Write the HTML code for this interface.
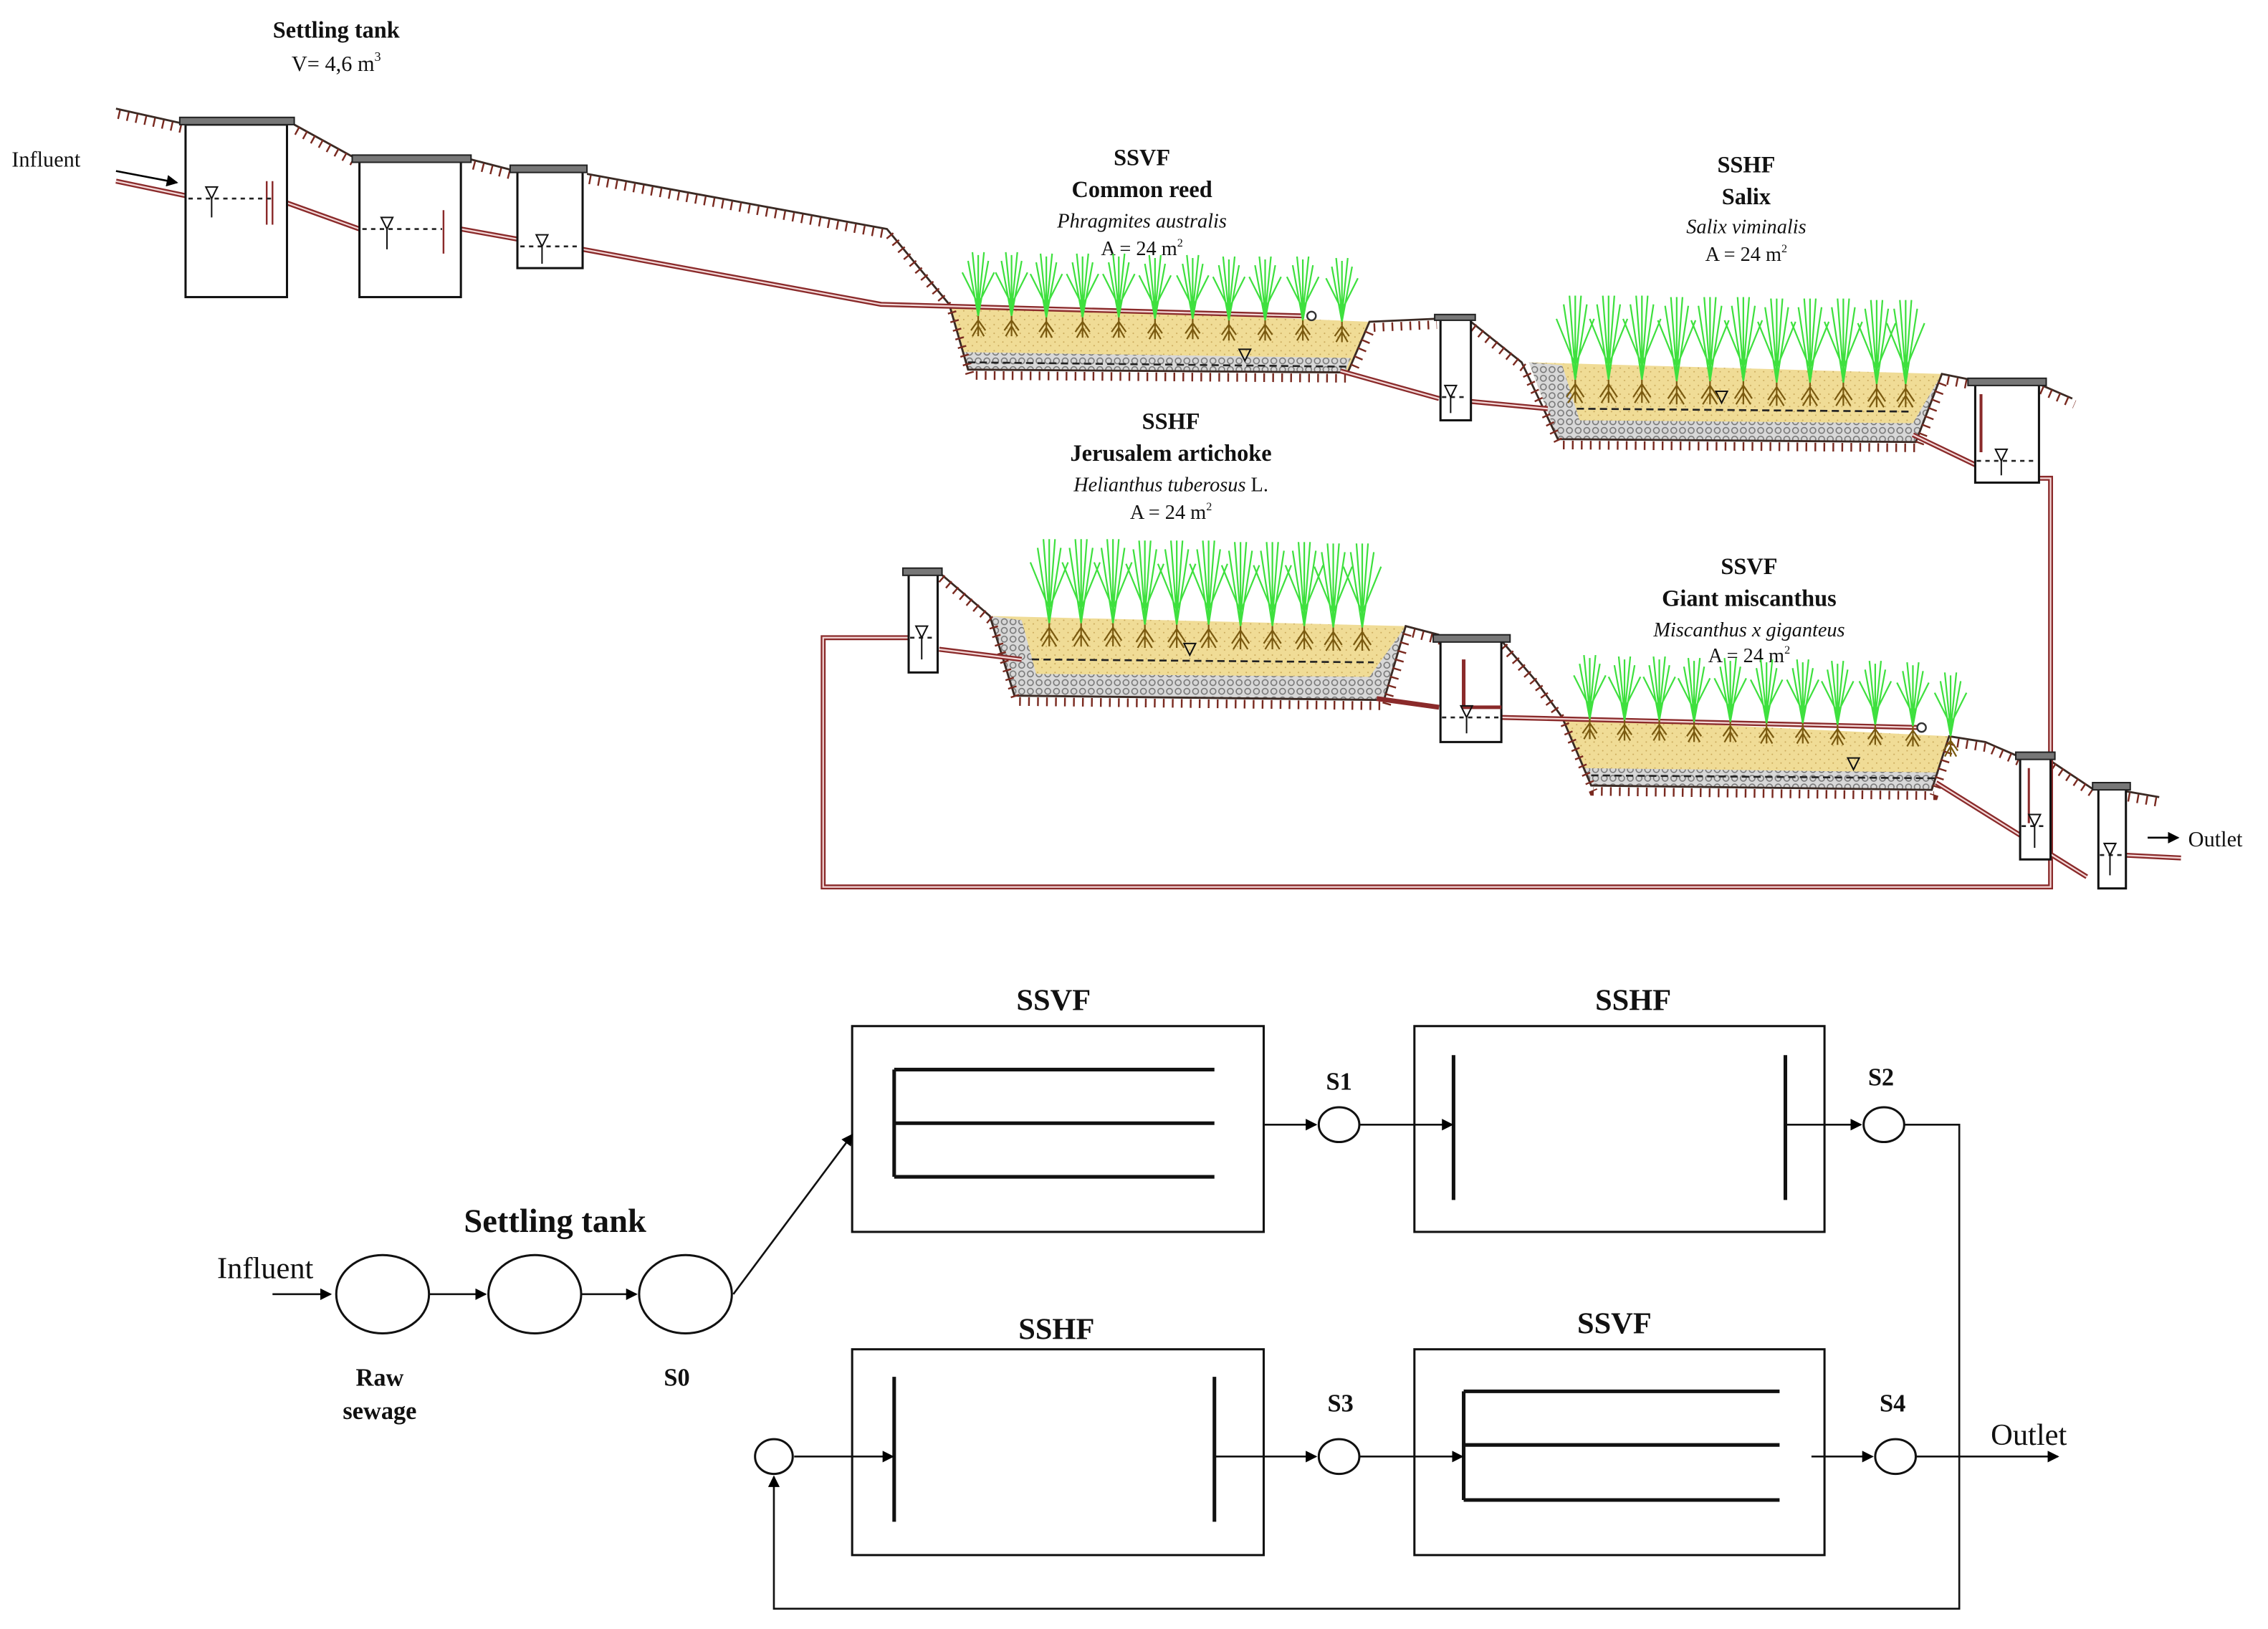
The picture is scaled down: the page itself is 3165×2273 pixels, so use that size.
<!DOCTYPE html>
<html><head><meta charset="utf-8"><style>
html,body{margin:0;padding:0;background:#fff}
svg{display:block}
text{font-family:"Liberation Serif",serif;fill:#111}
.b{font-weight:bold}
.i{font-style:italic}
</style></head><body>
<svg width="3165" height="2273" viewBox="0 0 1565 1124" xmlns="http://www.w3.org/2000/svg">
<defs>
<g id="reed">
 <g stroke="#3ee03e" stroke-width="1.1" fill="none">
  <path d="M0 0 L0 -42 M0 0 L-7 -38 M0 0 L7 -38 M0 -8 L-11 -30 M0 -8 L11 -30 M0 -4 L-4 -44 M0 -4 L4 -44"/>
 </g>
 <g stroke="#7a5a10" stroke-width="1.1" fill="none">
  <path d="M0 0 L0 14 M0 3 L-5 10 M0 3 L5 10 M0 7 L-4 14 M0 7 L4 14"/>
 </g>
</g>
<g id="tall">
 <g stroke="#3ee03e" stroke-width="1.1" fill="none">
  <path d="M0 0 L0 -58 M0 0 L-8 -52 M0 0 L8 -52 M0 -10 L-13 -42 M0 -10 L13 -42 M0 -5 L-4 -58 M0 -5 L4 -58"/>
 </g>
 <g stroke="#7a5a10" stroke-width="1.1" fill="none">
  <path d="M0 0 L0 16 M0 3 L-6 12 M0 3 L6 12 M0 8 L-5 16 M0 8 L5 16"/>
 </g>
</g>
<pattern id="sand" width="6" height="6" patternUnits="userSpaceOnUse">
 <rect width="6" height="6" fill="#f0dc96"/><circle cx="2" cy="2" r=".5" fill="#c9a85a"/><circle cx="5" cy="4.5" r=".5" fill="#c9a85a"/>
</pattern>
<pattern id="grav" width="6" height="6" patternUnits="userSpaceOnUse">
 <rect width="6" height="6" fill="#d8d8d8"/><circle cx="3" cy="3" r="2" fill="none" stroke="#777" stroke-width=".8"/>
</pattern>
<marker id="ar" markerWidth="8" markerHeight="8" refX="7" refY="4" orient="auto" markerUnits="userSpaceOnUse"><path d="M0 0 L8 4 L0 8z" fill="#000"/></marker>
</defs>

<text x="232" y="26" text-anchor="middle" class="b" font-size="16">Settling tank</text>
<text x="232" y="49" text-anchor="middle" font-size="15">V= 4,6 m<tspan font-size="9" dy="-7">3</tspan></text>
<text x="8" y="115" font-size="15">Influent</text>
<path d="M80 118 L122 126" stroke="#000" stroke-width="1.3" marker-end="url(#ar)"/>

<text x="788" y="114" text-anchor="middle" class="b" font-size="16">SSVF</text>
<text x="788" y="136" text-anchor="middle" class="b" font-size="16">Common reed</text>
<text x="788" y="157" text-anchor="middle" class="i" font-size="14">Phragmites australis</text>
<text x="788" y="176" text-anchor="middle" font-size="14">A = 24 m<tspan font-size="8" dy="-6">2</tspan></text>

<text x="1205" y="119" text-anchor="middle" class="b" font-size="16">SSHF</text>
<text x="1205" y="141" text-anchor="middle" class="b" font-size="16">Salix</text>
<text x="1205" y="161" text-anchor="middle" class="i" font-size="14">Salix viminalis</text>
<text x="1205" y="180" text-anchor="middle" font-size="14">A = 24 m<tspan font-size="8" dy="-6">2</tspan></text>

<text x="808" y="296" text-anchor="middle" class="b" font-size="16">SSHF</text>
<text x="808" y="318" text-anchor="middle" class="b" font-size="16">Jerusalem artichoke</text>
<text x="808" y="339" text-anchor="middle" class="i" font-size="14">Helianthus tuberosus <tspan font-style="normal">L.</tspan></text>
<text x="808" y="358" text-anchor="middle" font-size="14">A = 24 m<tspan font-size="8" dy="-6">2</tspan></text>

<text x="1207" y="396" text-anchor="middle" class="b" font-size="16">SSVF</text>
<text x="1207" y="418" text-anchor="middle" class="b" font-size="16">Giant miscanthus</text>
<text x="1207" y="439" text-anchor="middle" class="i" font-size="14">Miscanthus x giganteus</text>
<text x="1207" y="457" text-anchor="middle" font-size="14">A = 24 m<tspan font-size="8" dy="-6">2</tspan></text>

<text x="1510" y="584" font-size="15">Outlet</text>
<path d="M1482 578 L1503 578" stroke="#000" stroke-width="1.3" marker-end="url(#ar)"/>

<path d="M655 210 L945 222 L930 257 L668 255 Z" fill="url(#sand)"/>
<path d="M665 243 L932 247 L928 257 L668 255 Z" fill="url(#grav)"/>
<path d="M1055 250 L1340 258 L1322 305 L1075 303 Z" fill="url(#sand)"/>
<path d="M1055 250 L1078 252 L1090 290 L1320 292 L1340 258 L1322 305 L1075 303 Z" fill="url(#grav)"/>
<path d="M683 425 L970 432 L955 483 L700 480 Z" fill="url(#sand)"/>
<path d="M683 425 L705 428 L715 465 L945 467 L970 432 L955 483 L700 480 Z" fill="url(#grav)"/>
<path d="M1078 495 L1345 508 L1333 545 L1098 542 Z" fill="url(#sand)"/>
<path d="M1092 530 L1338 533 L1333 545 L1098 542 Z" fill="url(#grav)"/>

<g fill="none">
<g stroke="#3a2a24" stroke-width="1.4">
<path d="M80 75 L125 85 M203 86 L243 108 M325 110 L352 117 M405 120 L612 158 L655 210 L668 255 L930 257 L945 222 L990 220 M1015 222 L1050 250 L1075 303 L1322 305 L1340 258 L1360 262 M1407 265 L1430 275"/>
<path d="M648 395 L683 425 L700 480 L955 483 L970 432 L993 438 M1036 442 L1060 470 L1078 495 L1098 542 L1333 545 L1345 508 L1370 512 L1393 522 M1415 525 L1445 545 M1467 546 L1490 550"/>
</g>
<g stroke="#7a2a20" stroke-width="6" stroke-dasharray="1.2 5" transform="translate(1.5 4)">
<path d="M80 75 L125 85 M203 86 L243 108 M325 110 L352 117 M405 120 L612 158 L655 210 L668 255 L930 257 L945 222 L990 220 M1015 222 L1050 250 L1075 303 L1322 305 L1340 258 L1360 262 M1407 265 L1430 275"/>
<path d="M648 395 L683 425 L700 480 L955 483 L970 432 L993 438 M1036 442 L1060 470 L1078 495 L1098 542 L1333 545 L1345 508 L1370 512 L1393 522 M1415 525 L1445 545 M1467 546 L1490 550"/>
</g>
</g>

<g fill="none">
<g stroke="#8a2a2a" stroke-width="3.4">
<path d="M80 125 L128 135 M198 140 L248 158 M318 158 L357 165 M402 172 L608 210 L900 218"/>
<path d="M925 256 L993 275 M1015 277 L1068 282"/>
<path d="M1320 300 L1372 325"/>
<path d="M1407 330 L1415 330 L1415 612 L568 612 L568 440 L628 440"/>
<path d="M648 448 L705 455"/>
<path d="M950 482 L993 488"/>
<path d="M1036 495 L1325 502"/>
<path d="M1336 540 L1440 605"/>
<path d="M1465 590 L1505 592"/>
</g>
<g stroke="#f3d8d8" stroke-width="1.1">
<path d="M80 125 L128 135 M198 140 L248 158 M318 158 L357 165 M402 172 L608 210 L900 218"/>
<path d="M925 256 L993 275 M1015 277 L1068 282"/>
<path d="M1320 300 L1372 325"/>
<path d="M1407 330 L1415 330 L1415 612 L568 612 L568 440 L628 440"/>
<path d="M648 448 L705 455"/>
<path d="M1036 495 L1325 502"/>
<path d="M1336 540 L1440 605"/>
<path d="M1465 590 L1505 592"/>
</g>
<circle cx="905" cy="218" r="3" stroke="#333" stroke-width="1.2" fill="#fff"/>
<circle cx="1326" cy="502" r="3" stroke="#333" stroke-width="1.2" fill="#fff"/>
</g>

<g fill="#fff" stroke="#111" stroke-width="1.5">
<rect x="128" y="86" width="70" height="119"/>
<rect x="248" y="111" width="70" height="94"/>
<rect x="357" y="118" width="45" height="67"/>
<rect x="994" y="220" width="21" height="70"/>
<rect x="1363" y="265" width="44" height="68"/>
<rect x="627" y="396" width="20" height="68"/>
<rect x="994" y="442" width="42" height="70"/>
<rect x="1394" y="523" width="21" height="70"/>
<rect x="1448" y="543" width="19" height="70"/>
</g>
<g fill="#777" stroke="#222" stroke-width="1">
<rect x="124" y="81" width="79" height="5"/>
<rect x="243" y="107" width="82" height="5"/>
<rect x="352" y="114" width="53" height="5"/>
<rect x="990" y="217" width="28" height="4"/>
<rect x="1358" y="261" width="54" height="5"/>
<rect x="623" y="392" width="27" height="5"/>
<rect x="989" y="438" width="53" height="5"/>
<rect x="1391" y="519" width="27" height="5"/>
<rect x="1444" y="540" width="26" height="5"/>
</g>
<g stroke="#8a2a2a" stroke-width="1.2" fill="none"><path d="M184 125 L184 155 M188 125 L188 155 M306 145 L306 175"/>
<path d="M1010 455 L1010 488 L1036 488" stroke-width="2.5"/><path d="M1367 272 L1367 312" stroke-width="2"/><path d="M1400 530 L1400 568" stroke-width="1.5"/></g>

<g stroke="#222" stroke-width="1.3" stroke-dasharray="5 3" fill="none">
<path d="M668 250 L930 253"/><path d="M1088 282 L1320 284"/><path d="M712 455 L948 457"/><path d="M1098 535 L1335 537"/>
<path d="M130 137 L190 137" stroke-dasharray="3 3"/><path d="M250 158 L305 158" stroke-dasharray="3 3"/><path d="M359 170 L400 170" stroke-dasharray="3 3"/>
<path d="M995 274 L1013 274" stroke-dasharray="3 3"/><path d="M1364 318 L1405 318" stroke-dasharray="3 3"/><path d="M628 440 L646 440" stroke-dasharray="3 3"/><path d="M995 495 L1034 495" stroke-dasharray="3 3"/><path d="M1395 570 L1413 570" stroke-dasharray="3 3"/><path d="M1449 590 L1465 590" stroke-dasharray="3 3"/>
</g>
<g fill="none" stroke="#111" stroke-width="1">
<path d="M142 129 L150 129 L146 137 Z M146 137 L146 150"/>
<path d="M263 150 L271 150 L267 158 Z M267 158 L267 172"/>
<path d="M370 162 L378 162 L374 170 Z M374 170 L374 182"/>
<path d="M997 266 L1005 266 L1001 274 Z M1001 274 L1001 285"/>
<path d="M1377 310 L1385 310 L1381 318 Z M1381 318 L1381 328"/>
<path d="M632 432 L640 432 L636 440 Z M636 440 L636 455"/>
<path d="M1008 487 L1016 487 L1012 495 Z M1012 495 L1012 506"/>
<path d="M1400 562 L1408 562 L1404 570 Z M1404 570 L1404 585"/>
<path d="M1452 582 L1460 582 L1456 590 Z M1456 590 L1456 604"/>
<path d="M855 241 L863 241 L859 249 Z"/>
<path d="M1184 270 L1192 270 L1188 278 Z"/>
<path d="M817 444 L825 444 L821 452 Z"/>
<path d="M1275 523 L1283 523 L1279 531 Z"/>
</g>

<g>
<use href="#reed" x="675" y="218"/><use href="#reed" x="698" y="218"/><use href="#reed" x="722" y="219"/><use href="#reed" x="747" y="219"/><use href="#reed" x="772" y="219"/><use href="#reed" x="797" y="220"/><use href="#reed" x="823" y="220"/><use href="#reed" x="848" y="221"/><use href="#reed" x="873" y="221"/><use href="#reed" x="899" y="221"/><use href="#reed" x="926" y="222"/>
<use href="#tall" x="1087" y="262"/><use href="#tall" x="1110" y="262"/><use href="#tall" x="1133" y="262"/><use href="#tall" x="1157" y="263"/><use href="#tall" x="1180" y="263"/><use href="#tall" x="1203" y="263"/><use href="#tall" x="1226" y="264"/><use href="#tall" x="1249" y="264"/><use href="#tall" x="1272" y="264"/><use href="#tall" x="1295" y="265"/><use href="#tall" x="1315" y="265"/>
<use href="#tall" x="724" y="430"/><use href="#tall" x="746" y="430"/><use href="#tall" x="768" y="430"/><use href="#tall" x="790" y="431"/><use href="#tall" x="812" y="431"/><use href="#tall" x="834" y="431"/><use href="#tall" x="856" y="432"/><use href="#tall" x="878" y="432"/><use href="#tall" x="900" y="432"/><use href="#tall" x="920" y="433"/><use href="#tall" x="940" y="433"/>
<use href="#reed" x="1097" y="496"/><use href="#reed" x="1121" y="497"/><use href="#reed" x="1145" y="497"/><use href="#reed" x="1169" y="498"/><use href="#reed" x="1194" y="498"/><use href="#reed" x="1219" y="499"/><use href="#reed" x="1244" y="499"/><use href="#reed" x="1268" y="500"/><use href="#reed" x="1294" y="500"/><use href="#reed" x="1320" y="501"/><use href="#reed" x="1346" y="508"/>
</g>

<g fill="none" stroke="#111" stroke-width="1.5">
<rect x="588" y="708" width="284" height="142"/>
<rect x="976" y="708" width="283" height="142"/>
<rect x="588" y="931" width="284" height="142"/>
<rect x="976" y="931" width="283" height="142"/>
<ellipse cx="264" cy="893" rx="32" ry="27"/>
<ellipse cx="369" cy="893" rx="32" ry="27"/>
<ellipse cx="473" cy="893" rx="32" ry="27"/>
<ellipse cx="924" cy="776" rx="14" ry="12"/>
<ellipse cx="1300" cy="776" rx="14" ry="12"/>
<ellipse cx="924" cy="1005" rx="14" ry="12"/>
<ellipse cx="1308" cy="1005" rx="14" ry="12"/>
<ellipse cx="534" cy="1005" rx="13" ry="12"/>
</g>
<g stroke="#111" stroke-width="2.5" fill="none">
<path d="M617 738 L617 812 M617 738 L838 738 M617 775 L838 775 M617 812 L838 812"/>
<path d="M1003 728 L1003 828 M1232 728 L1232 828"/>
<path d="M617 950 L617 1050 M838 950 L838 1050"/>
<path d="M1010 960 L1010 1035 M1010 960 L1228 960 M1010 997 L1228 997 M1010 1035 L1228 1035"/>
</g>
<g stroke="#111" stroke-width="1.3" fill="none" marker-end="url(#ar)">
<path d="M188 893 L228 893"/>
<path d="M296 893 L335 893"/>
<path d="M401 893 L439 893"/>
<path d="M506 893 L588 783"/>
<path d="M872 776 L908 776"/>
<path d="M938 776 L1002 776"/>
<path d="M1232 776 L1284 776"/>
<path d="M548 1005 L616 1005"/>
<path d="M838 1005 L908 1005"/>
<path d="M938 1005 L1009 1005"/>
<path d="M1250 1005 L1292 1005"/>
<path d="M1322 1005 L1420 1005"/>
<path d="M1314 776 L1352 776 L1352 1110 L534 1110 L534 1019"/>
</g>
<text x="727" y="697" text-anchor="middle" class="b" font-size="21">SSVF</text>
<text x="1127" y="697" text-anchor="middle" class="b" font-size="21">SSHF</text>
<text x="729" y="924" text-anchor="middle" class="b" font-size="21">SSHF</text>
<text x="1114" y="920" text-anchor="middle" class="b" font-size="21">SSVF</text>
<text x="383" y="850" text-anchor="middle" class="b" font-size="23">Settling tank</text>
<text x="183" y="882" text-anchor="middle" font-size="21">Influent</text>
<text x="262" y="956" text-anchor="middle" class="b" font-size="17">Raw</text>
<text x="262" y="979" text-anchor="middle" class="b" font-size="17">sewage</text>
<text x="467" y="956" text-anchor="middle" class="b" font-size="17">S0</text>
<text x="924" y="752" text-anchor="middle" class="b" font-size="17">S1</text>
<text x="1298" y="749" text-anchor="middle" class="b" font-size="17">S2</text>
<text x="925" y="974" text-anchor="middle" class="b" font-size="17">S3</text>
<text x="1306" y="974" text-anchor="middle" class="b" font-size="17">S4</text>
<text x="1400" y="997" text-anchor="middle" font-size="21">Outlet</text>
</svg>
</body></html>
